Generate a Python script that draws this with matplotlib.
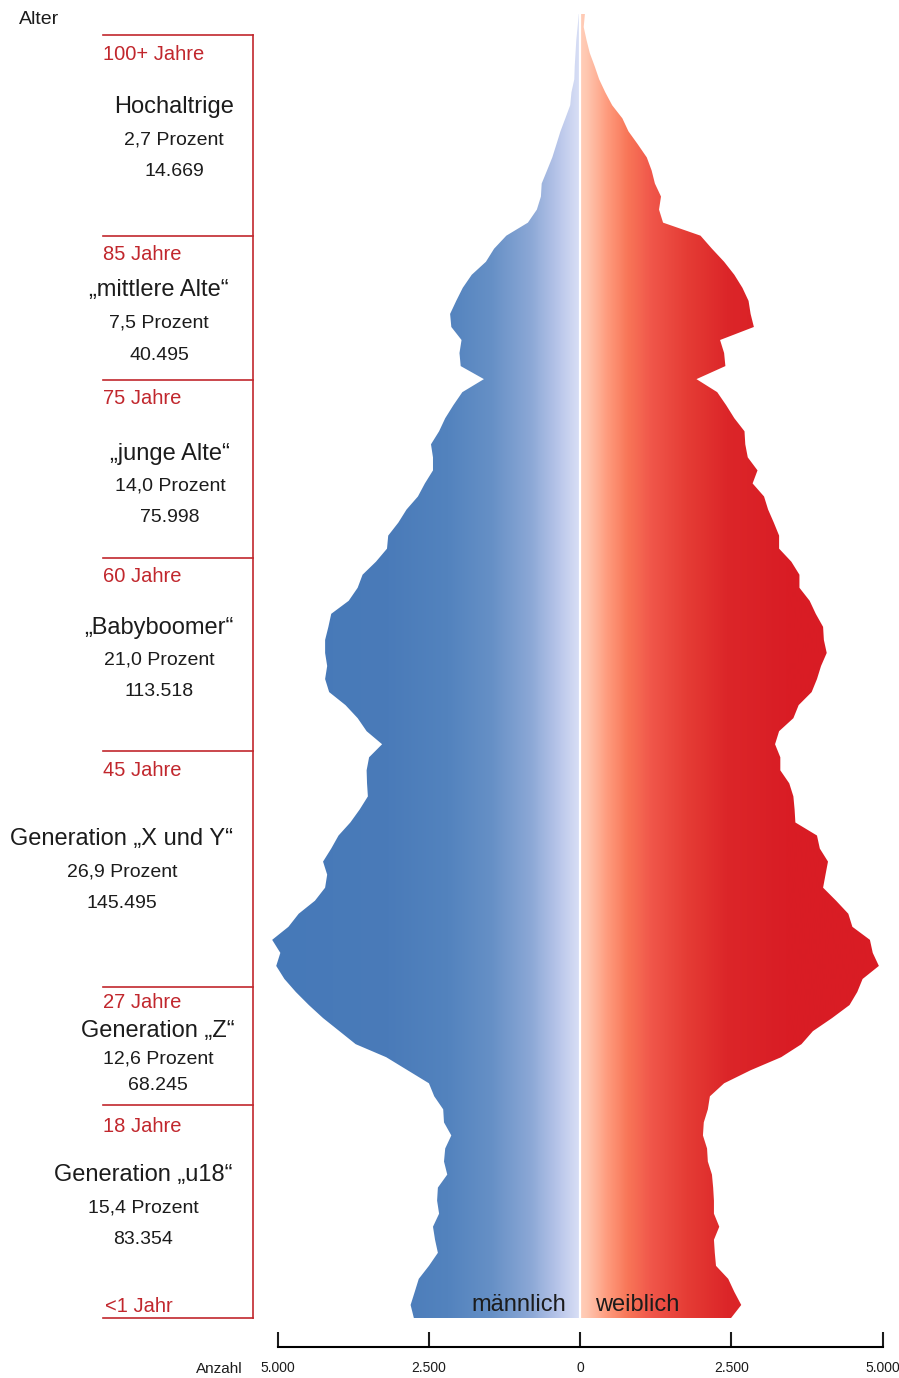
import numpy as np
import matplotlib
matplotlib.use("Agg")
import matplotlib.pyplot as plt
from matplotlib import font_manager
from matplotlib.colors import LinearSegmentedColormap

# population per single year of age, 0 .. 100+
ages = np.arange(0, 101)
male = [
    2746, 2800, 2732, 2665, 2497, 2349, 2396, 2430, 2329, 2362,
    2349, 2194, 2248, 2228, 2127, 2248, 2261, 2409, 2497, 2850,
    3203, 3708, 3977, 4247, 4482, 4697, 4886, 5021, 4953, 5088,
    4819, 4650, 4381, 4213, 4179, 4247, 4112, 3991, 3796, 3641,
    3506, 3520, 3527, 3486, 3271, 3527, 3675, 3876, 4146, 4213,
    4179, 4213, 4213, 4159, 4112, 3823, 3675, 3594, 3372, 3190,
    3170, 3002, 2867, 2679, 2564, 2430, 2430, 2463, 2329, 2228,
    2093, 1945, 1588, 1972, 1992, 1958, 2127, 2147, 2046, 1938,
    1790, 1555, 1420, 1218, 861, 713, 646, 633, 545, 458,
    390, 323, 242, 162, 141, 94, 87, 74, 61, 40, 20]
female = [
    2497, 2665, 2551, 2450, 2248, 2228, 2214, 2302, 2214, 2214,
    2201, 2181, 2113, 2100, 2032, 2046, 2113, 2147, 2382, 2820,
    3325, 3661, 3850, 4166, 4455, 4583, 4671, 4940, 4839, 4792,
    4502, 4435, 4233, 4018, 4058, 4099, 3964, 3917, 3560, 3547,
    3527, 3459, 3311, 3311, 3224, 3291, 3527, 3614, 3829, 3917,
    3984, 4078, 4031, 4018, 3897, 3796, 3627, 3627, 3493, 3291,
    3291, 3203, 3109, 3042, 2853, 2934, 2773, 2732, 2719, 2551,
    2416, 2268, 1925, 2403, 2382, 2315, 2874, 2820, 2786, 2685,
    2551, 2382, 2181, 1992, 1373, 1306, 1339, 1238, 1184, 1104,
    956, 801, 700, 532, 417, 316, 242, 162, 108, 61, 81]

# age groups shown in the left bracket
group_edges = ["100+ Jahre", "85 Jahre", "75 Jahre", "60 Jahre",
               "45 Jahre", "27 Jahre", "18 Jahre", "<1 Jahr"]
group_names = ["Hochaltrige", "„mittlere Alte“", "„junge Alte“", "„Babyboomer“",
               "Generation „X und Y“", "Generation „Z“", "Generation „u18“"]
group_pct = ["2,7 Prozent", "7,5 Prozent", "14,0 Prozent", "21,0 Prozent",
             "26,9 Prozent", "12,6 Prozent", "15,4 Prozent"]
group_count = ["14.669", "40.495", "75.998", "113.518",
               "145.495", "68.245", "83.354"]

xticks = [-5000, -2500, 0, 2500, 5000]
xtick_labels = ["5.000", "2.500", "0", "2.500", "5.000"]

names = {f.name for f in font_manager.fontManager.ttflist}
FONT = "Liberation Sans Narrow" if "Liberation Sans Narrow" in names else "Liberation Sans"
plt.rcParams["font.family"] = [FONT, "DejaVu Sans"]

W, H = 899, 1378
fig = plt.figure(figsize=(W / 100, H / 100), dpi=100)

RED = "#c1272d"
INK = "#1c1c1c"

# overlay in pixel coords for the bracket and labels
ov = fig.add_axes([0, 0, 1, 1])
ov.set_xlim(0, W)
ov.set_ylim(H, 0)
ov.axis("off")

edge_y = [35, 236, 380, 558, 751, 987, 1105, 1318]
ov.plot([253, 253], [edge_y[0], edge_y[-1]], color=RED, lw=1.2)
for y in edge_y:
    ov.plot([103, 253], [y, y], color=RED, lw=1.2)

label_y = [54, 255, 399, 576, 771, 1003, 1127, 1306]
for lab, y in zip(group_edges, label_y):
    x = 105 if lab.startswith("<") else 103
    ov.text(x, y, lab, color=RED, fontsize=14.5, ha="left", va="center")

name_x = [174, 159, 170, 159, 122, 158, 143]
name_y = [107, 290, 454, 628, 839, 1031, 1175]
sub_gap = [33, 33, 32, 32, 33, 28, 33]
for i in range(len(group_names)):
    x, y, g = name_x[i], name_y[i], sub_gap[i]
    ov.text(x, y, group_names[i], color=INK, fontsize=17, ha="center", va="center")
    ov.text(x, y + g, group_pct[i], color=INK, fontsize=14, ha="center", va="center")
    ov.text(x, y + 2 * g - 1, group_count[i], color=INK, fontsize=14, ha="center", va="center")

ov.text(19, 19, "Alter", color=INK, fontsize=14, ha="left", va="center")
ov.text(219, 1369, "Anzahl", color=INK, fontsize=11, ha="center", va="center")

# pyramid axes: 605 px for 10.000 people, age 0 at y=1318, 100 at y=14
PX = 605 / 10000
XL = 5300
ax = fig.add_axes([(580 - XL * PX) / W, (H - 1318) / H, 2 * XL * PX / W, 1304 / H])
ax.set_xlim(-XL, XL)
ax.set_ylim(0, 100)
ax.patch.set_visible(False)

male_cmap = LinearSegmentedColormap.from_list("m", [
    (0.0, "#4679b8"), (0.368, "#4a7bb9"), (0.565, "#5383be"), (0.71, "#6690c6"),
    (0.841, "#8ca8d6"), (0.933, "#b9c6ea"), (0.992, "#d5dcf4"), (1.0, "#d8def5")])
female_cmap = LinearSegmentedColormap.from_list("f", [
    (0.0, "#ffcdb8"), (0.018, "#ffc8b2"), (0.09, "#fe9a7c"), (0.156, "#f87658"),
    (0.235, "#f0564a"), (0.354, "#e53c35"), (0.485, "#dc2629"), (0.68, "#d91d25"),
    (1.0, "#d91c24")])

xs_m = np.linspace(-XL, 0, 800)
xs_f = np.linspace(0, XL, 800)
tm = np.clip((xs_m + 5000) / 5000, 0, 1)[None, :]
tf = np.clip(xs_f / 5000, 0, 1)[None, :]

pm = ax.fill_betweenx(ages, -np.array(male), 0, color="none", lw=0)
pf = ax.fill_betweenx(ages, 0, np.array(female), color="none", lw=0)
im_m = ax.imshow(tm, cmap=male_cmap, vmin=0, vmax=1, aspect="auto",
                 extent=(-XL, 0, 0, 100), interpolation="bilinear")
im_f = ax.imshow(tf, cmap=female_cmap, vmin=0, vmax=1, aspect="auto",
                 extent=(0, XL, 0, 100), interpolation="bilinear")
im_m.set_clip_path(pm.get_paths()[0], ax.transData)
im_f.set_clip_path(pf.get_paths()[0], ax.transData)
ax.set_xlim(-XL, XL)
ax.set_ylim(0, 100)
ax.axvline(0, color="white", lw=1.6, zorder=5)

ax.text(-230, 1.0, "männlich", color=INK, fontsize=17, ha="right", va="center", zorder=6)
ax.text(250, 1.0, "weiblich", color=INK, fontsize=17, ha="left", va="center", zorder=6)

for s in ["left", "right", "top"]:
    ax.spines[s].set_visible(False)
ax.spines["bottom"].set_position(("outward", 29 * 0.72))
ax.spines["bottom"].set_bounds(-5000, 5000)
ax.spines["bottom"].set_linewidth(1.5)
ax.set_yticks([])
ax.set_xticks(xticks)
ax.set_xticklabels(xtick_labels)
ax.tick_params(axis="x", direction="in", length=11, width=1.5, pad=10,
               labelsize=10, colors=INK)

fig.savefig("out.png", dpi=100)
